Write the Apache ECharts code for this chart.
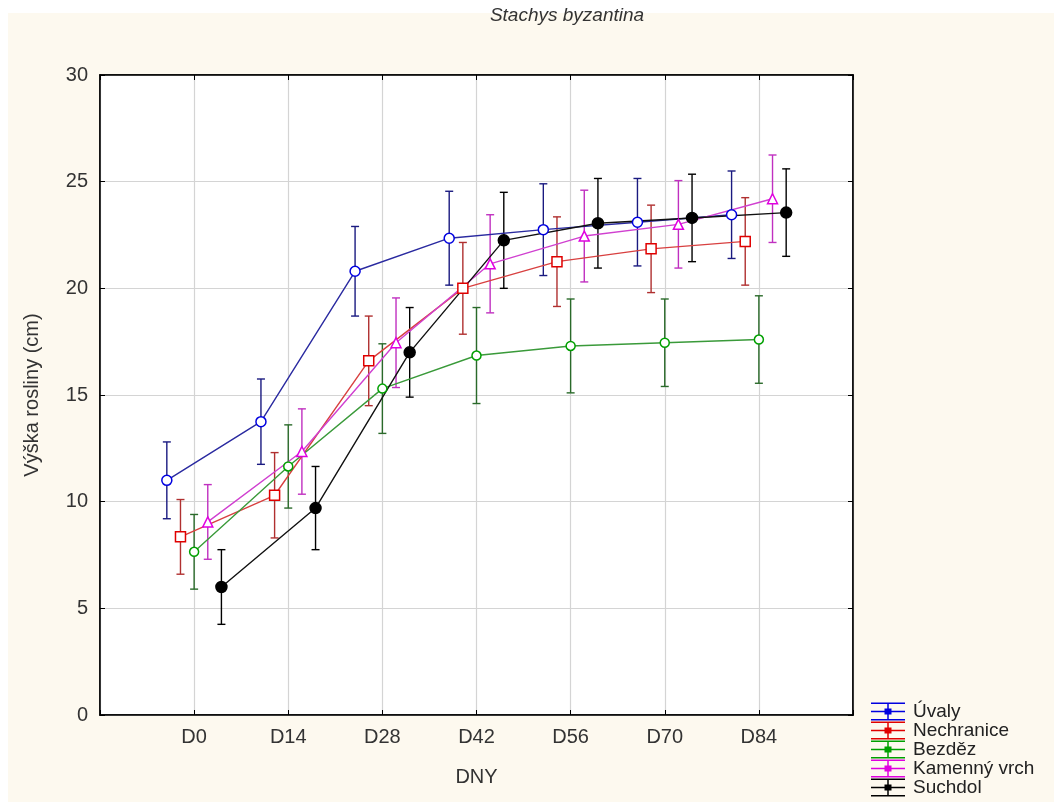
<!DOCTYPE html>
<html>
<head>
<meta charset="utf-8">
<script src="https://cdn.jsdelivr.net/npm/echarts@6/dist/echarts.min.js"></script>
<style>
  html, body { margin: 0; padding: 0; background: #fff; }
  #wrap { position: relative; width: 1057px; height: 802px; }
  #bg { position: absolute; left: 8px; top: 13px; width: 1046px; height: 789px; background: #fdf9ef; }
  #chart { position: absolute; left: 0; top: 0; width: 1057px; height: 802px; }
</style>
</head>
<body>
<div id="wrap">
  <div id="bg"></div>
  <div id="chart"></div>
</div>
<script>
// kategorie (dny)
const days = ['D0', 'D14', 'D28', 'D42', 'D56', 'D70', 'D84'];
const siteNames = ['Úvaly', 'Nechranice', 'Bezděz', 'Kamenný vrch', 'Suchdol'];

// průměry
const uvaly = [11.0, 13.75, 20.8, 22.35, 22.75, 23.1, 23.45];
const nechranice = [8.35, 10.3, 16.6, 20.0, 21.25, 21.85, 22.2];
const bezdez = [7.65, 11.65, 15.3, 16.85, 17.3, 17.45, 17.6];
const kamenny = [9.05, 12.35, 17.45, 21.15, 22.45, 23.0, 24.2];
const suchdol = [6.0, 9.7, 17.0, 22.25, 23.05, 23.3, 23.55];

// chyby (+/-)
const uvalyErr = [1.8, 2.0, 2.1, 2.2, 2.15, 2.05, 2.05];
const nechraniceErr = [1.75, 2.0, 2.1, 2.15, 2.1, 2.05, 2.05];
const bezdezErr = [1.75, 1.95, 2.1, 2.25, 2.2, 2.05, 2.05];
const kamennyErr = [1.75, 2.0, 2.1, 2.3, 2.15, 2.05, 2.05];
const suchdolErr = [1.75, 1.95, 2.1, 2.25, 2.1, 2.05, 2.05];

const yTicks = [0, 5, 10, 15, 20, 25, 30];

const means = [uvaly, nechranice, bezdez, kamenny, suchdol];
const errs = [uvalyErr, nechraniceErr, bezdezErr, kamennyErr, suchdolErr];

const lineColors = ['#2a2aa0', '#d84040', '#3a9a3a', '#d040d0', '#111111'];
const markColors = ['#0000e0', '#e00000', '#00a000', '#e000e0', '#000000'];
const barColors = ['#1a1a80', '#b03030', '#2a6a2a', '#c030c0', '#000000'];
const symbols = ['circle', 'rect', 'circle', 'triangle', 'circle'];
const symSizes = [10, 10, 9, 10, 11];
const filled = [false, false, false, false, true];
const offsets = [-0.29, -0.145, 0, 0.145, 0.29];

const legendIcon = 'path://M0,0H34V1.5H0Z M0,8.25H34V9.75H0Z M0,16.5H34V18H0Z M16.25,0H17.75V18H16.25Z M13.5,6H20.5V12H13.5Z';

const chart = echarts.init(document.getElementById('chart'));

const series = [];
siteNames.forEach((name, i) => {
  const pts = means[i].map((v, k) => [k + offsets[i], v]);
  const bars = means[i].map((v, k) => [k + offsets[i], v - errs[i][k], v + errs[i][k]]);
  series.push({
    name: name,
    type: 'custom',
    silent: true,
    renderItem: (params, api) => {
      const x = api.value(0);
      const lo = api.coord([x, api.value(1)]);
      const hi = api.coord([x, api.value(2)]);
      const w = 4;
      const st = { stroke: barColors[i], lineWidth: 1.4 };
      return {
        type: 'group',
        children: [
          { type: 'line', shape: { x1: lo[0], y1: lo[1], x2: hi[0], y2: hi[1] }, style: st },
          { type: 'line', shape: { x1: lo[0] - w, y1: lo[1], x2: lo[0] + w, y2: lo[1] }, style: st },
          { type: 'line', shape: { x1: hi[0] - w, y1: hi[1], x2: hi[0] + w, y2: hi[1] }, style: st }
        ]
      };
    },
    encode: { x: 0, y: [1, 2] },
    data: bars,
    z: 2
  });
  series.push({
    name: name,
    type: 'line',
    data: pts,
    symbol: symbols[i],
    symbolSize: symSizes[i],
    showSymbol: true,
    lineStyle: { color: lineColors[i], width: 1.4 },
    itemStyle: {
      color: filled[i] ? markColors[i] : '#ffffff',
      borderColor: markColors[i],
      borderWidth: 1.5
    },
    z: 3
  });
});

const option = {
  animation: false,
  color: markColors,
  textStyle: { fontFamily: 'Liberation Sans, Arial, sans-serif' },
  title: {
    text: 'Stachys byzantina',
    left: 562,
    textAlign: 'center',
    top: 1,
    textStyle: { fontSize: 19, fontWeight: 'normal', fontStyle: 'italic', color: '#333' }
  },
  legend: {
    orient: 'vertical',
    left: 871,
    top: 702,
    height: 120,
    padding: 0,
    itemWidth: 34,
    itemHeight: 18,
    itemGap: 0,
    icon: legendIcon,
    textStyle: { fontSize: 19, color: '#222', padding: [0, 0, 0, 3] },
    data: siteNames.map((n, i) => ({ name: n, itemStyle: { color: markColors[i] } }))
  },
  grid: {
    left: 100,
    right: 204,
    top: 75,
    bottom: 87,
    show: true,
    backgroundColor: '#ffffff',
    borderColor: '#000',
    borderWidth: 1.5
  },
  xAxis: [{
    type: 'value',
    min: -1,
    max: 7,
    interval: 1,
    name: 'DNY',
    nameLocation: 'middle',
    nameGap: 52,
    nameTextStyle: { fontSize: 20, color: '#333' },
    axisLine: { show: true, onZero: false, lineStyle: { color: '#000', width: 1.5 } },
    axisTick: { show: true, inside: true, length: 5, lineStyle: { color: '#000' } },
    axisLabel: {
      fontSize: 20,
      color: '#333',
      margin: 12,
      formatter: v => days[v] || ''
    },
    splitLine: { show: true, lineStyle: { color: '#d4d4d4', width: 1.2 } }
  }, {
    type: 'value',
    position: 'top',
    min: -1,
    max: 7,
    interval: 1,
    axisLine: { show: true, onZero: false, lineStyle: { color: '#000', width: 1.5 } },
    axisTick: { show: true, inside: true, length: 5, lineStyle: { color: '#000' } },
    axisLabel: { show: false },
    splitLine: { show: false }
  }],
  yAxis: [{
    type: 'value',
    min: yTicks[0],
    max: yTicks[yTicks.length - 1],
    interval: 5,
    name: 'Výška rosliny (cm)',
    nameLocation: 'middle',
    nameGap: 58,
    nameTextStyle: { fontSize: 20, color: '#333' },
    axisLine: { show: true, onZero: false, lineStyle: { color: '#000', width: 1.5 } },
    axisTick: { show: true, inside: true, length: 5, lineStyle: { color: '#000' } },
    axisLabel: { fontSize: 20, color: '#333', margin: 12 },
    splitLine: { show: true, lineStyle: { color: '#d4d4d4', width: 1.2 } }
  }, {
    type: 'value',
    position: 'right',
    min: yTicks[0],
    max: yTicks[yTicks.length - 1],
    interval: 5,
    axisLine: { show: true, onZero: false, lineStyle: { color: '#000', width: 1.5 } },
    axisTick: { show: true, inside: true, length: 5, lineStyle: { color: '#000' } },
    axisLabel: { show: false },
    splitLine: { show: false }
  }],
  series: series
};

chart.setOption(option);
</script>
</body>
</html>
